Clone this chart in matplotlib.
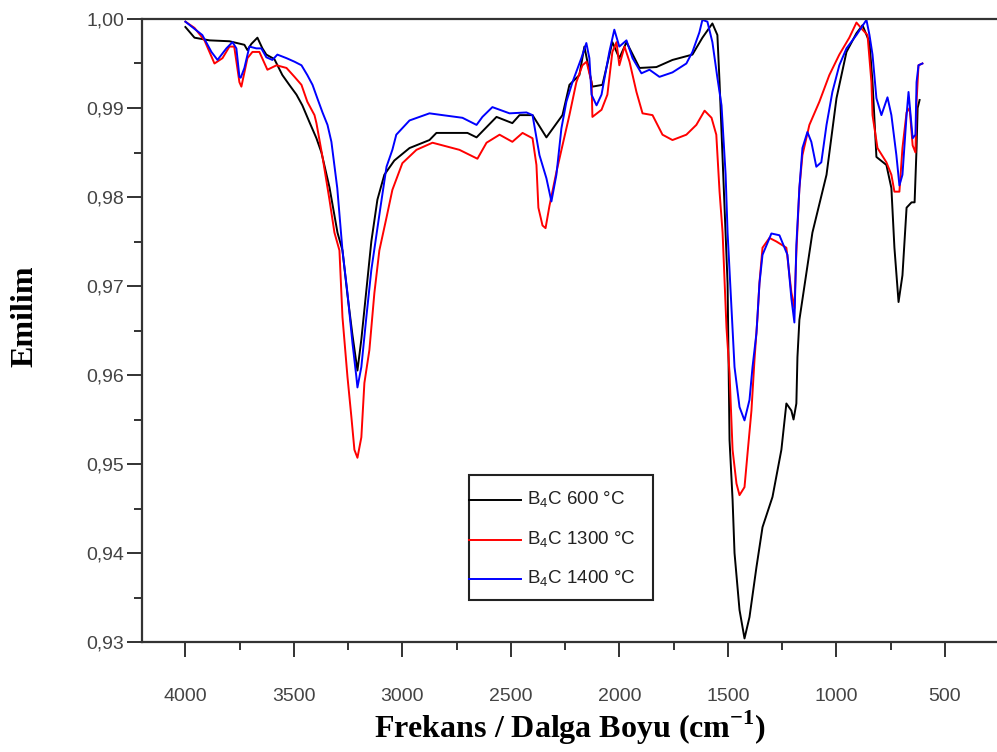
import matplotlib
matplotlib.use("Agg")
import matplotlib.pyplot as plt
from matplotlib.lines import Line2D
from matplotlib.patches import Rectangle
from matplotlib.ticker import MultipleLocator, FuncFormatter

plt.rcParams['mathtext.fontset'] = 'custom'
plt.rcParams['mathtext.rm'] = 'Liberation Serif:bold'
plt.rcParams['mathtext.sf'] = 'Liberation Sans'

# FTIR emission spectra of B4C, wavenumber (cm-1) vs emissivity
wn_600 = [4000, 3958, 3889, 3797, 3728, 3714, 3696, 3668, 3645, 3627, 3590, 3553, 3521,
          3488, 3461, 3428, 3396, 3373, 3336, 3299, 3276, 3253, 3230, 3207, 3189, 3166,
          3143, 3115, 3083, 3037, 2967, 2875, 2843, 2700, 2658, 2566, 2493, 2460, 2400,
          2336, 2262, 2230, 2184, 2161, 2124, 2078, 2032, 2000, 1967, 1907, 1829, 1755,
          1663, 1617, 1571, 1548, 1538, 1501, 1492, 1478, 1469, 1446, 1423, 1400, 1368,
          1340, 1294, 1253, 1230, 1207, 1197, 1184, 1179, 1170, 1110, 1045, 999, 953,
          907, 879, 847, 833, 815, 769, 746, 732, 713, 695, 676, 653, 639, 630, 625, 616]
em_600 = [0.9991, 0.9979, 0.9976, 0.9975, 0.9971, 0.9965, 0.9972, 0.9979, 0.9967, 0.9960,
          0.9955, 0.9937, 0.9926, 0.9915, 0.9903, 0.9884, 0.9866, 0.9850, 0.9811, 0.9760,
          0.9740, 0.9690, 0.9645, 0.9605, 0.9640, 0.9695, 0.9750, 0.9797, 0.9825, 0.9841,
          0.9855, 0.9864, 0.9872, 0.9872, 0.9867, 0.9890, 0.9883, 0.9892, 0.9892, 0.9867,
          0.9892, 0.9926, 0.9937, 0.9969, 0.9924, 0.9926, 0.9974, 0.9956, 0.9974, 0.9945,
          0.9946, 0.9954, 0.9960, 0.9979, 0.9995, 0.9982, 0.9929, 0.9703, 0.9527, 0.9460,
          0.9400, 0.9336, 0.9304, 0.9328, 0.9384, 0.9429, 0.9463, 0.9516, 0.9568, 0.9560,
          0.9550, 0.9568, 0.9620, 0.9662, 0.9760, 0.9825, 0.9911, 0.9963, 0.9984, 0.9993,
          0.9974, 0.9929, 0.9845, 0.9836, 0.9810, 0.9743, 0.9682, 0.9712, 0.9788, 0.9794,
          0.9794, 0.9855, 0.9900, 0.9909]

wn_1300 = [4000, 3958, 3912, 3866, 3829, 3797, 3775, 3751, 3742, 3714, 3691, 3659, 3622,
           3580, 3534, 3497, 3465, 3438, 3405, 3396, 3368, 3336, 3313, 3290, 3276, 3253,
           3235, 3221, 3207, 3189, 3175, 3152, 3129, 3106, 3073, 3046, 3000, 2935, 2861,
           2737, 2654, 2612, 2552, 2493, 2446, 2400, 2382, 2373, 2354, 2340, 2322, 2290,
           2262, 2230, 2198, 2170, 2151, 2128, 2124, 2082, 2055, 2032, 2013, 2000, 1976,
           1953, 1921, 1893, 1847, 1801, 1755, 1691, 1645, 1607, 1575, 1553, 1538, 1524,
           1506, 1492, 1478, 1460, 1446, 1423, 1409, 1391, 1377, 1363, 1354, 1340, 1308,
           1276, 1230, 1207, 1193, 1184, 1170, 1156, 1124, 1078, 1032, 986, 940, 907, 879,
           856, 838, 833, 810, 769, 746, 732, 709, 695, 676, 662, 648, 635, 630, 621, 603]
em_1300 = [0.9997, 0.9990, 0.9976, 0.9950, 0.9956, 0.9969, 0.9969, 0.9929, 0.9924, 0.9956,
           0.9963, 0.9963, 0.9943, 0.9948, 0.9945, 0.9935, 0.9926, 0.9907, 0.9892, 0.9883,
           0.9845, 0.9797, 0.9760, 0.9740, 0.9665, 0.9598, 0.9553, 0.9516, 0.9507, 0.9530,
           0.9591, 0.9628, 0.9692, 0.9740, 0.9777, 0.9808, 0.9838, 0.9853, 0.9861, 0.9853,
           0.9843, 0.9861, 0.9870, 0.9862, 0.9872, 0.9866, 0.9836, 0.9788, 0.9768, 0.9765,
           0.9790, 0.9828, 0.9858, 0.9892, 0.9929, 0.9948, 0.9952, 0.9929, 0.9890, 0.9898,
           0.9915, 0.9963, 0.9974, 0.9948, 0.9969, 0.9952, 0.9918, 0.9894, 0.9892, 0.9870,
           0.9864, 0.9870, 0.9881, 0.9897, 0.9889, 0.9870, 0.9806, 0.9760, 0.9653, 0.9602,
           0.9516, 0.9478, 0.9465, 0.9474, 0.9512, 0.9560, 0.9617, 0.9665, 0.9704, 0.9743,
           0.9754, 0.9750, 0.9743, 0.9693, 0.9675, 0.9738, 0.9810, 0.9847, 0.9881, 0.9907,
           0.9937, 0.9960, 0.9979, 0.9996, 0.9988, 0.9982, 0.9929, 0.9892, 0.9855, 0.9839,
           0.9825, 0.9806, 0.9806, 0.9855, 0.9895, 0.9900, 0.9858, 0.9850, 0.9907, 0.9948,
           0.9950]

wn_1400 = [4000, 3922, 3880, 3852, 3811, 3783, 3765, 3751, 3745, 3728, 3705, 3673, 3650,
           3627, 3599, 3576, 3534, 3497, 3465, 3438, 3414, 3392, 3368, 3345, 3327, 3300,
           3276, 3253, 3230, 3212, 3207, 3189, 3166, 3143, 3100, 3073, 3046, 3028, 2967,
           2875, 2815, 2723, 2658, 2631, 2585, 2506, 2428, 2400, 2368, 2336, 2313, 2290,
           2267, 2244, 2216, 2175, 2152, 2138, 2128, 2105, 2082, 2046, 2023, 2000, 1967,
           1939, 1898, 1861, 1815, 1755, 1691, 1663, 1631, 1617, 1594, 1571, 1548, 1529,
           1510, 1501, 1483, 1469, 1446, 1423, 1400, 1386, 1368, 1354, 1340, 1299, 1262,
           1225, 1207, 1193, 1184, 1170, 1156, 1133, 1115, 1092, 1069, 1045, 1018, 986,
           953, 907, 861, 847, 833, 815, 792, 764, 746, 723, 709, 695, 676, 667, 648, 635,
           630, 621, 603]
em_1400 = [0.9997, 0.9982, 0.9963, 0.9954, 0.9967, 0.9974, 0.9967, 0.9935, 0.9934, 0.9945,
           0.9969, 0.9967, 0.9967, 0.9957, 0.9954, 0.9960, 0.9956, 0.9952, 0.9948, 0.9937,
           0.9926, 0.9911, 0.9895, 0.9881, 0.9862, 0.9810, 0.9740, 0.9692, 0.9636, 0.9598,
           0.9586, 0.9609, 0.9665, 0.9718, 0.9790, 0.9834, 0.9853, 0.9870, 0.9886, 0.9894,
           0.9892, 0.9889, 0.9881, 0.9890, 0.9901, 0.9894, 0.9895, 0.9892, 0.9847, 0.9821,
           0.9795, 0.9825, 0.9877, 0.9907, 0.9929, 0.9956, 0.9973, 0.9956, 0.9915, 0.9903,
           0.9915, 0.9963, 0.9988, 0.9969, 0.9976, 0.9956, 0.9939, 0.9943, 0.9935, 0.9940,
           0.9950, 0.9963, 0.9985, 0.9999, 0.9997, 0.9974, 0.9934, 0.9903, 0.9825, 0.9760,
           0.9675, 0.9609, 0.9564, 0.9549, 0.9572, 0.9609, 0.9647, 0.9703, 0.9735, 0.9759,
           0.9757, 0.9735, 0.9686, 0.9659, 0.9746, 0.9810, 0.9855, 0.9873, 0.9862, 0.9834,
           0.9839, 0.9881, 0.9918, 0.9948, 0.9967, 0.9982, 0.9999, 0.9982, 0.9960, 0.9911,
           0.9892, 0.9912, 0.9892, 0.9847, 0.9813, 0.9825, 0.9892, 0.9918, 0.9866, 0.9870,
           0.9929, 0.9948, 0.9950]

labels = [r'B$_\mathsf{4}$C 600 °C', r'B$_\mathsf{4}$C 1300 °C', r'B$_\mathsf{4}$C 1400 °C']
colors = ['black', '#ff0000', '#0000ff']

W, H = 997, 752
fig = plt.figure(figsize=(W / 100, H / 100), dpi=100)
ax = fig.add_axes([142 / W, 1 - 642 / H, 857 / W, 623 / H])

for wn, em, c in zip([wn_600, wn_1300, wn_1400], [em_600, em_1300, em_1400], colors):
    ax.plot(wn, em, color=c, lw=1.4)

ax.set_xlim(4200, 250)
ax.set_ylim(0.93, 1.00)

ax.xaxis.set_major_locator(MultipleLocator(500))
ax.xaxis.set_minor_locator(MultipleLocator(250))
ax.yaxis.set_major_locator(MultipleLocator(0.01))
ax.yaxis.set_minor_locator(MultipleLocator(0.005))
ax.yaxis.set_major_formatter(FuncFormatter(lambda v, p: f'{v:.2f}'.replace('.', ',')))

tickfont = ['Liberation Sans Narrow', 'Liberation Sans', 'DejaVu Sans']
ax.tick_params(axis='both', which='major', direction='out', length=11, width=1.3,
               color='#222222', labelcolor='#444444', labelsize=14)
ax.tick_params(axis='both', which='minor', direction='out', length=6, width=1.3,
               color='#222222')
ax.tick_params(axis='x', which='major', pad=22)
ax.tick_params(axis='y', which='major', pad=2)
for lab in ax.get_xticklabels() + ax.get_yticklabels():
    lab.set_family(tickfont)

for s in ['left', 'bottom', 'top']:
    ax.spines[s].set_linewidth(1.6)
    ax.spines[s].set_color('#333333')
ax.spines['right'].set_visible(False)

ax.set_xlabel(r'Frekans / Dalga Boyu (cm$^{-1}$)', family='Liberation Serif',
              fontweight='bold', fontsize=23)
ax.set_ylabel('Emilim', family='Liberation Serif', fontweight='bold', fontsize=23)
ax.xaxis.set_label_coords((570 - 142) / 857, -(728 - 642) / 623)
ax.yaxis.set_label_coords(-(142 - 25) / 857, (642 - 316) / 623)
ax.xaxis.label.set_va('center')
ax.yaxis.label.set_va('center')

# legend box drawn by hand to match the original layout
box = Rectangle((469 / W, 1 - 600 / H), 184 / W, 125 / H, transform=fig.transFigure,
                facecolor='white', edgecolor='#222222', lw=1.5, zorder=5)
fig.add_artist(box)
for i, (lab, c) in enumerate(zip(labels, colors)):
    yy = 1 - (500 + 39.5 * i) / H
    fig.add_artist(Line2D([469 / W, 521 / W], [yy, yy], color=c, lw=1.4,
                          transform=fig.transFigure, zorder=6))
    fig.text(527 / W, yy, lab, family='Liberation Sans', fontsize=13.5, color='#222222',
             va='center', ha='left', zorder=6)

fig.savefig('out.png', dpi=100)
